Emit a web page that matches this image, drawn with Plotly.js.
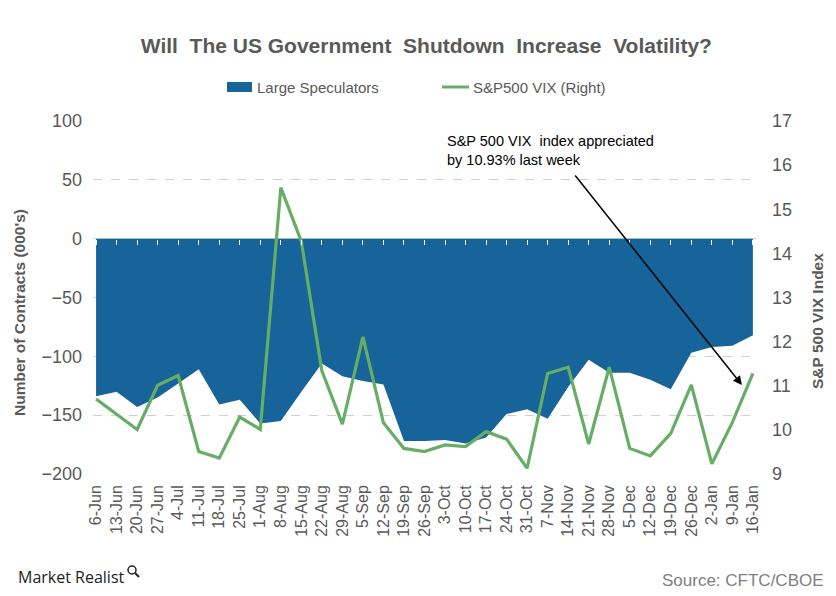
<!DOCTYPE html>
<html>
<head>
<meta charset="utf-8">
<script src="https://cdn.plot.ly/plotly-3.0.1.min.js"></script>
<style>html,body{margin:0;padding:0;background:#fff;}#chart{width:836px;height:596px;}</style>
</head>
<body>
<div id="chart"></div>
<script>
const weeks = ["6-Jun","13-Jun","20-Jun","27-Jun","4-Jul","11-Jul","18-Jul","25-Jul","1-Aug","8-Aug","15-Aug","22-Aug","29-Aug","5-Sep","12-Sep","19-Sep","26-Sep","3-Oct","10-Oct","17-Oct","24-Oct","31-Oct","7-Nov","14-Nov","21-Nov","28-Nov","5-Dec","12-Dec","19-Dec","26-Dec","2-Jan","9-Jan","16-Jan"];
const largeSpeculators = [-134,-130,-143,-135,-123,-111,-141,-137,-157,-155,-130,-106,-117,-121,-124,-172,-172,-171,-174,-169,-149,-145,-153,-126,-103,-114,-114,-120,-128,-97,-92,-91,-82];
const vix = [10.70,10.36,10.01,11.01,11.23,9.51,9.36,10.29,10.01,15.49,14.27,11.34,10.13,12.11,10.16,9.58,9.51,9.66,9.62,9.96,9.79,9.13,11.28,11.42,9.68,11.42,9.58,9.41,9.92,11.02,9.23,10.17,11.28];
const leftTicks = [100,50,0,-50,-100,-150,-200];
const rightTicks = [9,10,11,12,13,14,15,16,17];

const font = "Liberation Sans, Arial, sans-serif";
const grey = "#595959";
const blue = "#17649a";
const green = "#66ad66";
const xr = [-0.15, 32.2];
// paper-coordinate helpers (plot area: x 93..757, y 121..474)
const px = v => (v - 93) / 664;
const py = v => (474 - v) / 353;

const traces = [
  {type:"scatter", mode:"lines", x:weeks, y:largeSpeculators, fill:"tozeroy",
   fillcolor:blue, line:{color:blue, width:0}, name:"Large Speculators",
   xaxis:"x", yaxis:"y"},
  {type:"scatter", mode:"lines", x:weeks, y:vix, line:{color:green, width:3.2},
   name:"S&P500 VIX (Right)", xaxis:"x2", yaxis:"y2"}
];

const layout = {
  width:836, height:596,
  margin:{l:93, r:79, t:121, b:122},
  paper_bgcolor:"#fff", plot_bgcolor:"#fff",
  font:{family:font, color:grey},
  showlegend:false,
  title:{text:"<b>Will  The US Government  Shutdown  Increase  Volatility?</b>",
         font:{family:"Liberation Sans Narrow, Liberation Sans, Arial", size:21, color:grey},
         x:0.51, xanchor:"center", y:0.923, yanchor:"middle"},
  xaxis:{type:"category", range:xr, showgrid:false, zeroline:false, showline:false,
         ticks:"", tickangle:-90, tickfont:{size:16, color:grey}, ticklabelstandoff:7,
         fixedrange:true},
  xaxis2:{type:"category", overlaying:"x", matches:"x", anchor:"free", position:(474-239)/353,
          side:"bottom", showgrid:false, zeroline:false, showline:false, showticklabels:false,
          ticks:"outside", ticklen:5, tickwidth:1, tickcolor:"#ffffff"},
  yaxis:{range:[-200,100], tickvals:leftTicks, showgrid:true, gridcolor:"#d0d0d0", griddash:"dash",
         gridwidth:1, zeroline:true, zerolinecolor:"#d9d9d9", zerolinewidth:1, showline:false,
         ticks:"", tickfont:{size:18, color:grey}, ticklabelstandoff:10},
  yaxis2:{range:[9,17], tickvals:rightTicks, overlaying:"y", side:"right", anchor:"x",
          showgrid:false, zeroline:false, showline:false, ticks:"",
          tickfont:{size:18, color:grey}, ticklabelstandoff:14},
  annotations:[
    {xref:"paper", yref:"paper", x:px(19), y:py(313), xanchor:"center", yanchor:"middle", textangle:-90,
     text:"<b>Number of Contracts (000's)</b>", showarrow:false, font:{family:font, size:15.5, color:grey}},
    {xref:"paper", yref:"paper", x:px(817), y:py(321), xanchor:"center", yanchor:"middle", textangle:-90,
     text:"<b>S&P 500 VIX Index</b>", showarrow:false, font:{family:font, size:15.5, color:grey}},
    {xref:"paper", yref:"paper", x:px(445), y:py(150), xanchor:"left", yanchor:"middle",
     text:"S&P 500 VIX  index appreciated<br>by 10.93% last week", align:"left", showarrow:false,
     font:{family:font, size:14.5, color:"#000"}},
    {xref:"paper", yref:"paper", x:px(742), y:py(385), ax:574-742, ay:174-385,
     showarrow:true, arrowhead:2, arrowsize:1.2, arrowwidth:1.5, arrowcolor:"#000", text:"", standoff:0},
    {xref:"paper", yref:"paper", x:px(255), y:py(87), xanchor:"left", yanchor:"middle",
     text:"Large Speculators", showarrow:false,
     font:{family:font, size:15, color:grey}},
    {xref:"paper", yref:"paper", x:px(471), y:py(87), xanchor:"left", yanchor:"middle",
     text:"S&P500 VIX (Right)", showarrow:false,
     font:{family:font, size:15, color:grey}},
    {xref:"paper", yref:"paper", x:px(826), y:py(580), xanchor:"right", yanchor:"middle",
     text:"Source: CFTC/CBOE", showarrow:false, font:{family:font, size:17, color:"#808080"}},
    {xref:"paper", yref:"paper", x:px(16), y:py(577), xanchor:"left", yanchor:"middle",
     text:"Market Realist", showarrow:false, font:{family:"Open Sans, Liberation Sans", size:16, color:"#222"}}
  ],
  shapes:[
    {type:"rect", xref:"paper", yref:"paper", x0:px(227), x1:px(252), y0:py(92), y1:py(82),
     fillcolor:blue, line:{width:0}},
    {type:"line", xref:"paper", yref:"paper", x0:px(442), x1:px(469), y0:py(87), y1:py(87),
     line:{color:green, width:3}},
    {type:"circle", xref:"paper", yref:"paper", x0:px(128), x1:px(136),
     y0:py(574), y1:py(566), line:{color:"#222", width:1.5}},
    {type:"line", xref:"paper", yref:"paper", x0:px(135), x1:px(139),
     y0:py(573), y1:py(577), line:{color:"#222", width:2}}
  ]
};

Plotly.newPlot("chart", traces, layout, {displayModeBar:false, staticPlot:true});
</script>
</body>
</html>
